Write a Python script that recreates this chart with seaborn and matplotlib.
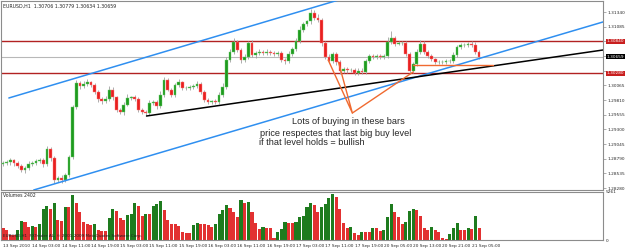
import numpy as np
import pandas as pd
import matplotlib
matplotlib.use("Agg")
import matplotlib.pyplot as plt
import seaborn as sns

# EURUSD H1 candles (one entry per bar)
first_open = 1.2870
closes = [
    1.2872, 1.2873, 1.2877, 1.2872, 1.2866, 1.2860, 1.2863, 1.2870, 1.2872, 1.2875,
    1.2877, 1.2870, 1.2896, 1.2880, 1.2842, 1.2846, 1.2842, 1.2851, 1.2882, 1.2969,
    1.3011, 1.3005, 1.3009, 1.3012, 1.3007, 1.2995, 1.2983, 1.2979, 1.2983, 1.2999,
    1.2986, 1.2964, 1.2960, 1.2973, 1.2985, 1.2986, 1.2983, 1.2964, 1.2960, 1.2959,
    1.2976, 1.2978, 1.2971, 1.2990, 1.3016, 1.2999, 1.2990, 1.3007, 1.3012, 1.3002,
    1.3002, 1.3004, 1.3005, 1.3009, 1.2995, 1.2981, 1.2978, 1.2979, 1.2978, 1.2990,
    1.3004, 1.3051, 1.3065, 1.3082, 1.3068, 1.3051, 1.3056, 1.3080, 1.3059, 1.3063,
    1.3065, 1.3063, 1.3065, 1.3063, 1.3061, 1.3063, 1.3051, 1.3049, 1.3061, 1.3070,
    1.3084, 1.3103, 1.3113, 1.3118, 1.3132, 1.3124, 1.3120, 1.3080, 1.3056, 1.3049,
    1.3061, 1.3047, 1.3032, 1.3035, 1.3033, 1.3033, 1.3028, 1.3032, 1.3030, 1.3049,
    1.3058, 1.3056, 1.3058, 1.3056, 1.3058, 1.3082, 1.3089, 1.3079, 1.3080, 1.3080,
    1.3061, 1.3032, 1.3044, 1.3065, 1.3079, 1.3065, 1.3058, 1.3052, 1.3047, 1.3047,
    1.3047, 1.3049, 1.3049, 1.3059, 1.3073, 1.3077, 1.3077, 1.3079, 1.3077, 1.3065,
    1.3056,
]
# wick lengths above / below the body, in pips (0.0001)
upper_wick = [
    3, 4, 3, 2, 3, 4, 3, 5, 3, 4,
    3, 4, 5, 3, 4, 3, 4, 3, 3, 4,
    5, 4, 5, 6, 3, 4, 3, 3, 5, 6,
    4, 3, 4, 5, 6, 3, 4, 3, 4, 3,
    5, 4, 3, 6, 5, 4, 3, 4, 5, 3,
    4, 3, 4, 5, 3, 4, 3, 3, 4, 5,
    6, 5, 4, 7, 4, 3, 5, 4, 6, 3,
    4, 3, 4, 3, 3, 4, 3, 4, 5, 4,
    5, 6, 4, 3, 7, 5, 6, 4, 3, 5,
    4, 3, 4, 3, 3, 4, 3, 4, 5, 3,
    4, 3, 4, 3, 3, 8, 12, 4, 3, 4,
    3, 4, 3, 5, 6, 4, 3, 3, 3, 4,
    3, 3, 4, 5, 4, 3, 4, 3, 5, 5,
    3,
]
lower_wick = [
    4, 3, 4, 5, 3, 4, 5, 3, 4, 3,
    4, 5, 3, 4, 5, 4, 5, 3, 4, 3,
    4, 5, 3, 4, 3, 4, 5, 4, 3, 4,
    5, 4, 3, 4, 3, 4, 3, 4, 3, 6,
    3, 4, 5, 3, 4, 3, 4, 3, 4, 3,
    3, 4, 3, 3, 4, 3, 4, 3, 4, 3,
    4, 3, 4, 3, 4, 5, 3, 4, 3, 4,
    3, 3, 4, 3, 3, 4, 3, 5, 4, 3,
    4, 3, 4, 3, 4, 3, 4, 5, 4, 3,
    4, 5, 6, 3, 4, 3, 4, 3, 4, 3,
    4, 3, 3, 4, 3, 4, 3, 4, 3, 4,
    4, 6, 4, 3, 4, 3, 4, 3, 4, 3,
    3, 4, 3, 4, 3, 4, 3, 4, 3, 4,
    3,
]
volumes = [
    1320, 1100, 550, 550, 1100, 2080, 1970, 1420, 1530, 1420,
    1750, 3400, 3730, 3400, 4060, 2190, 2080, 3620, 3620, 4930,
    4060, 3070, 1970, 1750, 1640, 1750, 1100, 990, 990, 2410,
    3400, 3180, 2410, 2190, 2740, 2850, 4060, 3730, 2630, 2850,
    2850, 3730, 3950, 4270, 3290, 2190, 1750, 1750, 1530, 880,
    770, 770, 1640, 1860, 1750, 1750, 1640, 1420, 1750, 2850,
    3290, 3840, 3510, 3070, 2520, 4380, 4060, 4170, 3070, 1860,
    1210, 1420, 1320, 1320, 220, 880, 1210, 1970, 1860, 1860,
    1970, 2520, 2630, 3620, 4060, 3840, 3070, 3620, 3950, 4600,
    5040, 4710, 3400, 1860, 1320, 1420, 770, 550, 880, 880,
    880, 1320, 1320, 990, 1100, 2520, 3950, 3070, 2520, 1750,
    1970, 3180, 3400, 3290, 2630, 1320, 1100, 1420, 1100, 880,
    220, 110, 660, 1320, 1860, 1100, 1100, 1320, 1210, 2630,
    1320,
]
time_labels = ["13 Sep 2010", "14 Sep 03:00", "14 Sep 11:00", "14 Sep 19:00",
               "15 Sep 03:00", "15 Sep 11:00", "15 Sep 19:00", "16 Sep 03:00",
               "16 Sep 11:00", "16 Sep 19:00", "17 Sep 03:00", "17 Sep 11:00",
               "17 Sep 19:00", "20 Sep 05:00", "20 Sep 13:00", "20 Sep 21:00",
               "21 Sep 05:00"]
price_ticks = [1.28280, 1.28535, 1.28790, 1.29045, 1.29300, 1.29555, 1.29810,
               1.30065, 1.30320, 1.30575, 1.30830, 1.31085, 1.31340]
hidden_ticks = [1.30320, 1.30575, 1.30830]  # covered by the level labels

# drawn objects on the chart: levels and trendlines (bar index, price)
resistance = 1.30837
support = 1.30281
bid = 1.30560
upper_channel = ([1.6, 91.6], [1.29847, 1.31550])
lower_channel = ([8.4, 163.8], [1.28248, 1.31168])
black_trend = ([39.2, 163.8], [1.29534, 1.30681])
orange_a = ([88.8, 95.4, 91.6], [1.30507, 1.29586, 1.30472])
orange_b = ([95.4, 112.0], [1.29586, 1.30299])
orange_c = ([112.0, 133.8], [1.30420, 1.30420])

n = len(closes)
opens = [first_open] + closes[:-1]
df = pd.DataFrame({"bar": np.arange(n), "open": opens, "close": closes})
df["high"] = df[["open", "close"]].max(axis=1) + np.array(upper_wick) * 1e-4
df["low"] = df[["open", "close"]].min(axis=1) - np.array(lower_wick) * 1e-4
df["up"] = df["close"] >= df["open"]

vol = pd.DataFrame({"bar": np.arange(n), "volume": volumes})
vol["dir"] = np.where(vol["volume"].diff().fillna(0) > 0, "up", "down")

sns.set_style("white")
plt.rcParams["font.family"] = ["DejaVu Sans"]

fig = plt.figure(figsize=(6.25, 2.49), dpi=100)
ax = fig.add_axes([0.0016, 0.237, 0.963, 0.759])
axv = fig.add_axes([0.0016, 0.036, 0.963, 0.193], sharex=ax)

grey = "#8c8c8c"

# levels
ax.axhline(resistance, color="#b22222", lw=1.0, zorder=1)
ax.axhline(support, color="#b22222", lw=1.0, zorder=1)
ax.axhline(bid, color="#b8b8b8", lw=0.8, zorder=1)

# candles
ax.vlines(df["bar"], df["low"], df["high"], color="#a0a0a0", lw=0.6, zorder=2)
body = (df["close"] - df["open"]).abs().clip(lower=0.00006)
bottom = df[["open", "close"]].min(axis=1)
colors = np.where(df["up"], "#1e9a1e", "#e82020")
edges = np.where(df["up"], "#70d070", "#ff8080")
ax.bar(df["bar"], body, bottom=bottom, width=0.75, color=colors,
       edgecolor=edges, linewidth=0.3, zorder=3)

# trendlines
for xs, ys in [upper_channel, lower_channel]:
    sns.lineplot(x=xs, y=ys, ax=ax, color="#2f8ff0", lw=1.1, sort=False, zorder=4)
sns.lineplot(x=black_trend[0], y=black_trend[1], ax=ax, color="black", lw=1.1,
             sort=False, zorder=4)
for xs, ys in [orange_a, orange_b, orange_c]:
    sns.lineplot(x=xs, y=ys, ax=ax, color="#f06a30", lw=1.0, sort=False, zorder=5)

ax.text(79.0, 1.2943, "Lots of buying in these bars", fontsize=6.6,
        family="Liberation Sans", va="center")
ax.text(70.3, 1.29238, "price respectes that last big buy level", fontsize=6.6,
        family="Liberation Sans", va="center")
ax.text(70.0, 1.29065, "if that level holds = bullish", fontsize=6.6,
        family="Liberation Sans", va="center")

ax.text(0.004, 0.985, "EURUSD,H1  1.30706 1.30779 1.30634 1.30659",
        transform=ax.transAxes, fontsize=3.4, va="top", ha="left")

ax.set_xlim(-0.54, 163.8)
ax.set_ylim(1.28248, 1.31533)
ax.yaxis.tick_right()
ax.set_yticks(price_ticks)
ax.set_yticklabels(["" if t in hidden_ticks else f"{t:.5f}" for t in price_ticks])
ax.tick_params(axis="y", labelsize=3.1, length=2, width=0.5, color=grey, pad=1)
ax.tick_params(axis="x", bottom=False, labelbottom=False)

# price labels on the scale
tr = ax.get_yaxis_transform()
for val, txt, bg in [(resistance, "1.30840", "#c81e1e"), (support, "1.30280", "#c81e1e"),
                     (bid, "1.30659", "black")]:
    ax.text(1.006, val, txt, transform=tr, fontsize=3.1, color="white", va="center",
            ha="left", clip_on=False,
            bbox=dict(boxstyle="square,pad=0.12", fc=bg, ec="none"))

# volumes
sns.barplot(data=vol, x="bar", y="volume", hue="dir",
            palette={"up": "#0f8a0f", "down": "#ff1414"}, native_scale=True,
            width=0.85, dodge=False, legend=False, errorbar=None, ax=axv,
            linewidth=0)
axv.set_ylim(0, 5261)
axv.set_xlim(-0.54, 163.8)
axv.set_ylabel("")
axv.set_xlabel("")
axv.yaxis.tick_right()
axv.set_yticks([0, 5261])
axv.set_yticklabels(["0", "5261"])
axv.tick_params(axis="y", labelsize=3.1, length=0, pad=2)
axv.set_xticks(np.arange(0, n, 8))
axv.set_xticklabels(time_labels, ha="left")
axv.tick_params(axis="x", labelsize=3.1, length=2, width=0.5, color=grey, pad=0.5)
axv.text(0.004, 0.97, "Volumes 2402", transform=axv.transAxes, fontsize=3.3,
         va="top")
axv.text(0.004, 0.05, "EURUSD,H1  FXTrader AL, \u00a9 2001-2009 MetaQuotes Software Corp.",
         transform=axv.transAxes, fontsize=3.0, va="bottom", color="#202020")

for a in (ax, axv):
    for s in a.spines.values():
        s.set_color(grey)
        s.set_linewidth(0.8)

fig.savefig("out.png", dpi=100)
